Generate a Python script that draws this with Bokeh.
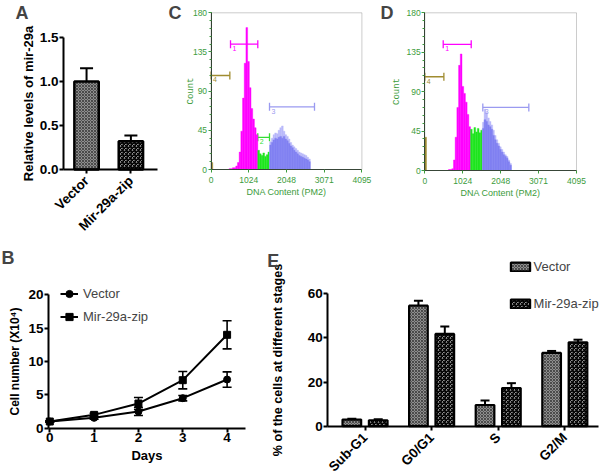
import math
from bokeh.plotting import figure
from bokeh.models import (Range1d, FixedTicker, NumeralTickFormatter, Whisker, TeeHead,
                          ColumnDataSource, Label, Legend, LegendItem, BoxAnnotation)
from bokeh.layouts import row, column
from bokeh.embed import file_html
from bokeh.resources import INLINE

# ---------------- data ----------------
# Panel A
a_groups = ["Vector", "Mir-29a-zip"]
a_values = [1.0, 0.32]
a_errors = [0.15, 0.065]
a_yticks = [0.0, 0.5, 1.0, 1.5]

# Panel B
b_days = [0, 1, 2, 3, 4]
b_vector = [1.0, 1.55, 2.5, 4.5, 7.3]
b_vector_err = [0.1, 0.2, 0.6, 0.4, 1.15]
b_mir = [1.0, 2.0, 3.7, 7.2, 14.0]
b_mir_err = [0.1, 0.25, 0.9, 1.3, 2.1]
b_yticks = [0, 5, 10, 15, 20]

# Panel E
e_stages = ["Sub-G1", "G0/G1", "S", "G2/M"]
e_vector = [3.0, 54.6, 9.6, 33.2]
e_vector_err = [0.4, 2.2, 2.0, 0.9]
e_mir = [2.7, 41.8, 17.3, 38.0]
e_mir_err = [0.4, 3.4, 2.2, 1.2]
e_yticks = [0, 20, 40, 60]

# Panels C / D : DNA content histograms (bins of 46 channels)
hist_bin = 46
cd_xticks = [0, 1024, 2048, 3071, 4095]
cd_yticks = [0, 45, 90, 135, 180]

c_sub_start, c_sub = 0, [8]
c_g1_start = 486
c_g1 = [1, 1, 2, 2, 4, 8, 20, 44, 82, 122, 163, 124, 94, 70, 58, 48, 40]
c_s_start = 1268
c_s = [22, 18, 16, 19, 15, 17, 20]
c_g2_start = 1590
c_g2 = [28, 31, 34, 36, 35, 37, 38, 36, 38, 35, 33, 30, 27, 25, 22, 20, 18, 16, 15, 14, 13, 12, 11, 9]
c_g2_hi = [32, 36, 40, 42, 41, 45, 48, 50, 44, 40, 38, 35, 31, 28, 26, 24, 22, 20, 19, 18, 17, 16, 14, 12]
c_gate_names = ["1", "2", "3", "4"]
c_gate_lo = [527, 1268, 1586, 0]
c_gate_hi = [1268, 1586, 2808, 509]
c_gate_y = [144, 37, 72, 108]

d_sub_start, d_sub = 0, [38]
d_g1_start = 636
d_g1 = [1, 1, 2, 12, 38, 72, 120, 133, 96, 88, 78, 64, 50]
d_s_start = 1234
d_s = [47, 42, 49, 44, 48, 43, 46]
d_g2_start = 1556
d_g2 = [48, 58, 56, 52, 50, 47, 40, 35, 31, 28, 24, 21, 18, 16, 14, 10, 6]
d_g2_hi = [55, 70, 66, 60, 56, 52, 46, 40, 35, 31, 27, 24, 21, 18, 16, 12, 8]
d_gate_names = ["1", "3", "4"]
d_gate_lo = [497, 1566, 0]
d_gate_hi = [1253, 2808, 515]
d_gate_y = [144, 72, 107]

# ---------------- styles ----------------
FONT = "Liberation Sans"
FLOW_GREEN = "#3c9c3c"
MAGENTA = "#ff00ff"
GREEN = "#1ee61e"
BLUE = "#8282f2"
BLUE_LIGHT = "#b8b8fa"
OLIVE = "#a08c30"
GATE_COLORS = {"1": MAGENTA, "2": "#33dd33", "3": "#9a9af0", "4": OLIVE}

VEC_STYLE = dict(fill_color="#8e8e8e", hatch_pattern="diagonal_cross", hatch_color="#2e2e2e",
                 hatch_scale=3, hatch_weight=0.7)
MIR_STYLE = dict(fill_color="white", hatch_pattern="criss_cross", hatch_color="black",
                 hatch_scale=4, hatch_weight=1.25)


def framed_fig(W, H, box, xr, yr):
    """Figure whose plotting frame fills the canvas; the data box (xr, yr) is
    mapped onto the pixel box `box` = (left, right, top, bottom)."""
    fl, fr, ft, fb = box
    (x0, x1), (y0, y1) = xr, yr
    kx = (x1 - x0) / (fr - fl)
    ky = (y1 - y0) / (fb - ft)
    p = figure(width=W, height=H,
               x_range=Range1d(x0 - fl * kx, x1 + (W - fr) * kx),
               y_range=Range1d(y0 - (H - fb) * ky, y1 + ft * ky),
               output_backend="svg", toolbar_location=None,
               min_border=0, min_border_left=0, min_border_right=0,
               min_border_top=0, min_border_bottom=0)
    p.outline_line_color = None
    p.xgrid.visible = False
    p.ygrid.visible = False
    p.background_fill_color = "white"
    p.border_fill_color = "white"
    p.xaxis.fixed_location = y0
    p.yaxis.fixed_location = x0
    p.xaxis.bounds = (x0, x1)
    p.yaxis.bounds = (y0, y1)
    return p


def bold_axes(p, tick_size="13.5px", label_size="13px"):
    for ax in p.axis:
        ax.axis_line_width = 2
        ax.axis_line_color = "black"
        ax.major_tick_line_width = 2
        ax.major_tick_line_color = "black"
        ax.major_tick_out = 4
        ax.major_tick_in = 0
        ax.minor_tick_line_color = None
        ax.major_label_text_font = FONT
        ax.major_label_text_font_style = "bold"
        ax.major_label_text_font_size = tick_size
        ax.major_label_text_color = "black"
        ax.major_label_standoff = 1
        ax.axis_label_text_font = FONT
        ax.axis_label_text_font_style = "bold"
        ax.axis_label_text_font_size = label_size
        ax.axis_label_text_color = "black"


def panel_letter(p, text, fx, fy, H):
    # (fx, fy): top-left of the capital letter, in canvas pixels of the figure
    p.add_layout(Label(x=fx, y=H - fy + 3, x_units="screen", y_units="screen",
                       text=text, text_font=FONT, text_font_style="bold",
                       text_font_size="18px", text_baseline="top", text_align="left"))


# ---------------- Panel A ----------------
WA, HA = 164, 240
pA = framed_fig(WA, HA, (63, 157, 37, 169), (-0.52, 1.6), (0, 1.5))
a_x = list(range(len(a_groups)))
styles = [VEC_STYLE, MIR_STYLE]
srcA = ColumnDataSource(dict(
    x=a_x, top=a_values, upper=[v + e for v, e in zip(a_values, a_errors)],
    fill=[s["fill_color"] for s in styles], hatch=[s["hatch_pattern"] for s in styles],
    hscale=[s["hatch_scale"] for s in styles], hweight=[s["hatch_weight"] for s in styles],
    hcolor=[s["hatch_color"] for s in styles]))
pA.add_layout(Whisker(source=srcA, base="x", lower="top", upper="upper", line_width=2,
                      lower_head=None, upper_head=TeeHead(size=13, line_width=2)))
pA.vbar(x="x", top="top", width=0.55, source=srcA, fill_color="fill", hatch_pattern="hatch",
        hatch_scale="hscale", hatch_weight="hweight", hatch_color="hcolor",
        line_color="black", line_width=2.5)
bold_axes(pA)
pA.xaxis.ticker = FixedTicker(ticks=a_x)
pA.xaxis.major_label_overrides = {i: g for i, g in enumerate(a_groups)}
pA.xaxis.major_label_orientation = math.pi / 4
pA.xaxis.major_label_text_font_size = "13.5px"
pA.xaxis.major_label_standoff = 5
pA.yaxis.ticker = FixedTicker(ticks=a_yticks)
pA.yaxis.formatter = NumeralTickFormatter(format="0.0")
pA.yaxis.axis_label = "Relative levels of mir-29a"
pA.yaxis.axis_label_standoff = 1
panel_letter(pA, "A", 15, 5, HA)


# ---------------- Panels C / D ----------------
def flow_fig(W, H, box, sub, g1s, g1, ss, s, g2s, g2, g2hi, gnames, glo, ghi, gy, count_standoff):
    p = framed_fig(W, H, box, (0, 4095), (0, 180))

    def hist(start, counts, color):
        lefts = [start + i * hist_bin for i in range(len(counts))]
        p.quad(left=lefts, right=[l + hist_bin for l in lefts], bottom=0, top=counts,
               fill_color=color, line_color=color, line_width=0.4)

    hist(sub[0], sub[1], OLIVE)
    hist(g1s, g1, MAGENTA)
    hist(ss, s, GREEN)
    hist(g2s, g2hi, BLUE_LIGHT)
    hist(g2s, g2, BLUE)

    p.add_layout(BoxAnnotation(left=0, right=4095, bottom=0, top=180, fill_alpha=0,
                               line_color="#555555", line_width=1))

    for name, lo, hi, yv in zip(gnames, glo, ghi, gy):
        col = GATE_COLORS[name]
        gsrc = ColumnDataSource(dict(b=[yv], lo=[lo], hi=[hi]))
        p.add_layout(Whisker(source=gsrc, base="b", lower="lo", upper="hi", dimension="width",
                             line_color=col, line_width=1.3,
                             lower_head=TeeHead(size=8, line_color=col, line_width=1.3),
                             upper_head=TeeHead(size=8, line_color=col, line_width=1.3)))
        p.text(x=[lo], y=[yv], text=[name], x_offset=2, y_offset=2, text_baseline="top",
               text_align="left", text_font_size="7px", text_color=col)

    for ax in p.axis:
        ax.axis_line_color = "#2b3f2b"
        ax.axis_line_width = 1
        ax.major_tick_line_color = FLOW_GREEN
        ax.minor_tick_line_color = FLOW_GREEN
        ax.major_tick_out = 3
        ax.major_tick_in = 0
        ax.minor_tick_out = 2
        ax.minor_tick_in = 0
        ax.major_label_text_color = FLOW_GREEN
        ax.major_label_text_font = FONT
        ax.major_label_text_font_size = "8.5px"
        ax.axis_label_text_color = FLOW_GREEN
        ax.axis_label_text_font_style = "normal"
    p.yaxis.ticker = FixedTicker(ticks=cd_yticks, minor_ticks=list(range(0, 181, 9)))
    p.yaxis.major_label_standoff = 1
    p.yaxis.axis_label = "Count"
    p.yaxis.axis_label_text_font = "Liberation Mono"
    p.yaxis.axis_label_text_font_size = "9px"
    p.yaxis.axis_label_standoff = count_standoff
    p.xaxis.ticker = FixedTicker(ticks=cd_xticks, minor_ticks=[])
    p.xaxis.major_label_standoff = 4
    p.xaxis.axis_label = "DNA Content (PM2)"
    p.xaxis.axis_label_text_font = FONT
    p.xaxis.axis_label_text_font_size = "9px"
    p.xaxis.axis_label_standoff = 1
    return p


WC, HC = 211, 240
pC = flow_fig(WC, HC, (46.6, 197.4, 12.3, 169), (c_sub_start, c_sub), c_g1_start, c_g1,
              c_s_start, c_s, c_g2_start, c_g2, c_g2_hi,
              c_gate_names, c_gate_lo, c_gate_hi, c_gate_y, -6)
panel_letter(pC, "C", 4, 5, HC)

WD, HD = 225, 240
pD = flow_fig(WD, HD, (49.3, 201, 12.3, 170), (d_sub_start, d_sub), d_g1_start, d_g1,
              d_s_start, d_s, d_g2_start, d_g2, d_g2_hi,
              d_gate_names, d_gate_lo, d_gate_hi, d_gate_y, 1)
panel_letter(pD, "D", 5, 5, HD)

# ---------------- Panel B ----------------
WB, HB = 258, 234
pB = framed_fig(WB, HB, (48, 245, 54.3, 187.7), (-0.029, 4.415), (0, 20))
for vals, errs in ((b_vector, b_vector_err), (b_mir, b_mir_err)):
    wsrc = ColumnDataSource(dict(x=b_days, lo=[v - e for v, e in zip(vals, errs)],
                                 hi=[v + e for v, e in zip(vals, errs)]))
    pB.add_layout(Whisker(source=wsrc, base="x", lower="lo", upper="hi", line_width=1.6,
                          lower_head=TeeHead(size=9, line_width=1.6),
                          upper_head=TeeHead(size=9, line_width=1.6)))
l1 = pB.line(b_days, b_vector, line_color="black", line_width=2)
s1 = pB.scatter(b_days, b_vector, marker="circle", size=7, color="black")
l2 = pB.line(b_days, b_mir, line_color="black", line_width=2)
s2 = pB.scatter(b_days, b_mir, marker="square", size=7, color="black")
legB = Legend(items=[LegendItem(label="Vector", renderers=[l1, s1]),
                     LegendItem(label="Mir-29a-zip", renderers=[l2, s2])],
              location=(60, 148.5), border_line_color=None, background_fill_alpha=0,
              label_text_font=FONT, label_text_font_size="13px",
              glyph_width=18, glyph_height=19, label_height=19, spacing=4,
              padding=0, margin=0, label_standoff=5)
pB.add_layout(legB)
bold_axes(pB)
pB.xaxis.ticker = FixedTicker(ticks=b_days)
pB.yaxis.ticker = FixedTicker(ticks=b_yticks)
pB.xaxis.axis_label = "Days"
pB.xaxis.axis_label_standoff = 2
pB.yaxis.axis_label = "Cell number (X10\u2074)"
pB.yaxis.axis_label_text_font_size = "12px"
pB.yaxis.axis_label_standoff = 3
panel_letter(pB, "B", 1, 10, HB)

# ---------------- Panel E ----------------
WE, HE = 342, 234
pE = framed_fig(WE, HE, (69.3, 340, 53.3, 185.7), (-0.559, 3.506), (0, 60))
e_idx = list(range(len(e_stages)))
dodge = 0.198
for vals, errs, style, label, off in ((e_vector, e_vector_err, VEC_STYLE, "Vector", -dodge),
                                      (e_mir, e_mir_err, MIR_STYLE, "Mir-29a-zip", dodge)):
    xs = [i + off for i in e_idx]
    src = ColumnDataSource(dict(x=xs, top=vals, upper=[v + e for v, e in zip(vals, errs)]))
    pE.add_layout(Whisker(source=src, base="x", lower="top", upper="upper", line_width=2,
                          lower_head=None, upper_head=TeeHead(size=9, line_width=2)))
    pE.vbar(x="x", top="top", width=0.28, source=src, line_color="black", line_width=2.2,
            legend_label=label, **style)
bold_axes(pE)
pE.xaxis.ticker = FixedTicker(ticks=e_idx)
pE.xaxis.major_label_overrides = {i: s for i, s in enumerate(e_stages)}
pE.xaxis.major_label_orientation = math.pi / 4
pE.xaxis.major_label_text_font_size = "13.5px"
pE.xaxis.major_label_standoff = 5
pE.yaxis.ticker = FixedTicker(ticks=e_yticks)
pE.yaxis.axis_label = "% of the cells at different stages"
pE.yaxis.axis_label_text_font_size = "12.6px"
pE.yaxis.axis_label_standoff = 19
pE.legend.location = (249.6, 161.5)
pE.legend.border_line_color = None
pE.legend.background_fill_alpha = 0
pE.legend.label_text_font = FONT
pE.legend.label_text_font_size = "13px"
pE.legend.glyph_width = 24
pE.legend.glyph_height = 11
pE.legend.label_height = 19
pE.legend.spacing = 18
pE.legend.padding = 0
pE.legend.margin = 0
pE.legend.label_standoff = 2
panel_letter(pE, "E", 8.7, 13, HE)

layout = column(row(pA, pC, pD), row(pB, pE))
open("out.html", "w").write(file_html(layout, INLINE))
